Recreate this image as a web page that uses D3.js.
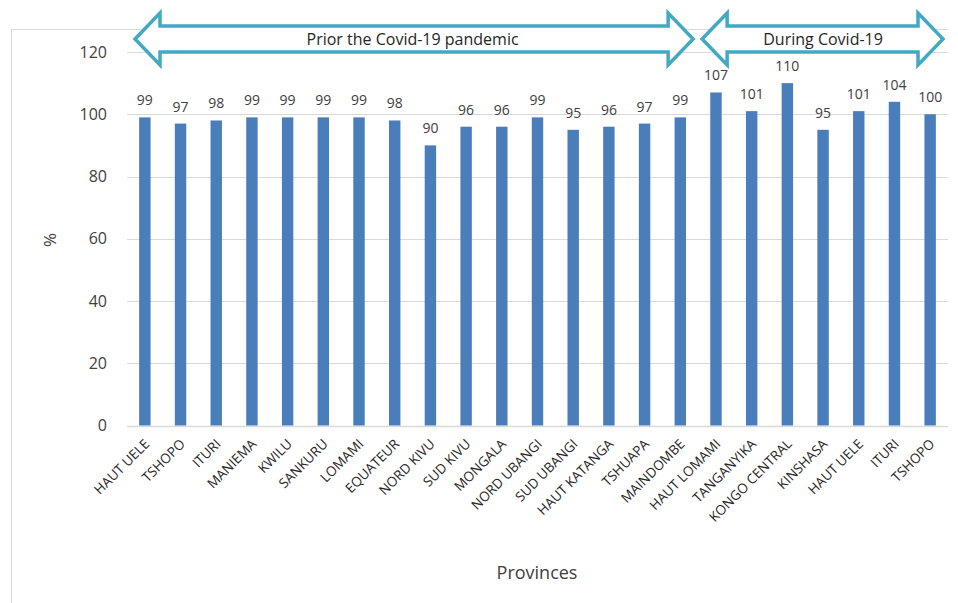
<!DOCTYPE html>
<html>
<head>
<meta charset="utf-8">
<script src="https://cdn.jsdelivr.net/npm/d3@7"></script>
<style>
  body { margin: 0; background: #fff; }
  svg { font-family: "Open Sans", sans-serif; }
</style>
</head>
<body>
<script>
// provinces, in the order they appear on the x axis
var provinces = ['HAUT UELE', 'TSHOPO', 'ITURI', 'MANIEMA', 'KWILU', 'SANKURU', 'LOMAMI', 'EQUATEUR',
  'NORD KIVU', 'SUD KIVU', 'MONGALA', 'NORD UBANGI', 'SUD UBANGI', 'HAUT KATANGA', 'TSHUAPA', 'MAINDOMBE',
  'HAUT LOMAMI', 'TANGANYIKA', 'KONGO CENTRAL', 'KINSHASA', 'HAUT UELE', 'ITURI', 'TSHOPO'];
var values = [99, 97, 98, 99, 99, 99, 99, 98, 90, 96, 96, 99, 95, 96, 97, 99, 107, 101, 110, 95, 101, 104, 100];
var yTicks = [0, 20, 40, 60, 80, 100, 120];
// periods: first and last bar index covered by each arrow
var periods = [
  { label: 'Prior the Covid-19 pandemic', from: 0, to: 15 },
  { label: 'During Covid-19', from: 16, to: 22 }
];

var width = 958, height = 603;
var svg = d3.select('body').append('svg').attr('width', width).attr('height', height);

var plotLeft = 127, plotRight = 948, plotTop = 52, plotBottom = 425.5;

var x = d3.scaleBand().domain(d3.range(provinces.length)).range([plotLeft, plotRight]).paddingInner(0.68).paddingOuter(0.34);
var y = d3.scaleLinear().domain([0, 120]).range([plotBottom, plotTop]);

// start / end of the slot a bar sits in
function cellStart(i) { return x(i) - x.step() * x.paddingInner() / 2; }
function cellEnd(i) { return cellStart(i) + x.step(); }

// chart frame (left + top edges only)
svg.append('path').attr('d', 'M11.5,' + height + 'V29.5H' + plotRight)
  .attr('fill', 'none').attr('stroke', '#d9d9d9');

// gridlines
svg.append('g').selectAll('line').data(yTicks).enter().append('line')
  .attr('x1', plotLeft).attr('x2', plotRight)
  .attr('y1', function(d) { return Math.round(y(d)) + 0.5; })
  .attr('y2', function(d) { return Math.round(y(d)) + 0.5; })
  .attr('stroke', '#d9d9d9').attr('stroke-width', function(d) { return d === 0 ? 1.5 : 1; });

// y axis labels
var yAxis = svg.append('g').attr('transform', 'translate(' + (plotLeft - 20) + ',0)')
  .call(d3.axisLeft(y).tickValues(yTicks).tickSize(0).tickPadding(0));
yAxis.select('.domain').remove();
yAxis.selectAll('text').attr('font-size', 16).attr('fill', '#404040').attr('font-family', '"Open Sans", sans-serif');

// bars
svg.append('g').selectAll('rect').data(values).enter().append('rect')
  .attr('x', function(d, i) { return x(i); })
  .attr('y', function(d) { return y(d); })
  .attr('width', x.bandwidth())
  .attr('height', function(d) { return y(0) - y(d); })
  .attr('fill', '#4a7ebb');

// value labels
svg.append('g').selectAll('text').data(values).enter().append('text')
  .attr('x', function(d, i) { return x(i) + x.bandwidth() / 2; })
  .attr('y', function(d) { return y(d) - 12; })
  .attr('text-anchor', 'middle')
  .attr('font-size', 14).attr('fill', '#404040')
  .text(function(d) { return d; });

// x labels, rotated
var xAxis = svg.append('g').attr('transform', 'translate(0,' + plotBottom + ')')
  .call(d3.axisBottom(x).tickSize(0).tickFormat(function(i) { return provinces[i]; }));
xAxis.select('.domain').remove();
xAxis.selectAll('text')
  .attr('font-size', 13.5).attr('fill', '#262626').attr('font-family', '"Open Sans", sans-serif')
  .attr('text-anchor', 'end')
  .attr('transform', 'translate(2,16) rotate(-45)')
  .attr('dy', '0.35em').attr('y', 0).attr('x', 0);

// axis titles
svg.append('text').attr('transform', 'translate(56,240) rotate(-90)')
  .attr('text-anchor', 'middle').attr('font-size', 17).attr('fill', '#404040').text('%');
svg.append('text').attr('x', 537).attr('y', 579)
  .attr('text-anchor', 'middle').attr('font-size', 18).attr('fill', '#404040').text('Provinces');

// double-headed arrows for the two periods
var cy = 39, shaftH = 13, headH = 26, headL = 25;
function arrowPath(x0, x1) {
  return 'M' + x0 + ',' + cy +
    'L' + (x0 + headL) + ',' + (cy - headH) +
    'V' + (cy - shaftH) +
    'H' + (x1 - headL) +
    'V' + (cy - headH) +
    'L' + x1 + ',' + cy +
    'L' + (x1 - headL) + ',' + (cy + headH) +
    'V' + (cy + shaftH) +
    'H' + (x0 + headL) +
    'V' + (cy + headH) + 'Z';
}
var arrows = svg.append('g').selectAll('g').data(periods).enter().append('g');
arrows.append('path')
  .attr('d', function(p) {
    var x0 = cellStart(p.from) + (p.from === 0 ? 8 : 4);
    var x1 = cellEnd(p.to) - 5;
    return arrowPath(x0, x1);
  })
  .attr('fill', '#fff').attr('stroke', '#41a9c4').attr('stroke-width', 3.5).attr('stroke-linejoin', 'miter');
arrows.append('text')
  .attr('x', function(p) { return (cellStart(p.from) + cellEnd(p.to)) / 2; })
  .attr('y', cy + 6)
  .attr('text-anchor', 'middle').attr('font-size', 16).attr('fill', '#262626')
  .text(function(p) { return p.label; });
</script>
</body>
</html>
